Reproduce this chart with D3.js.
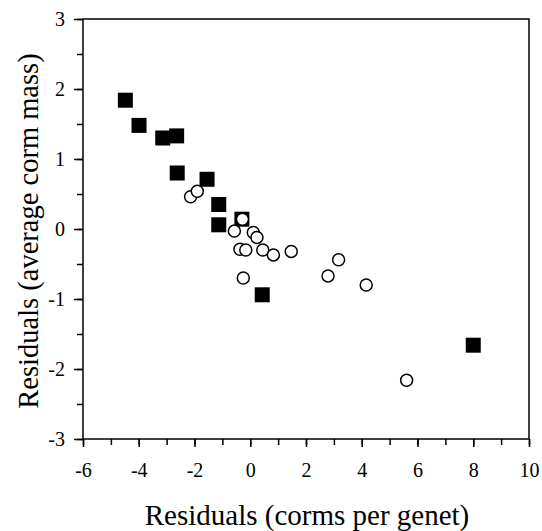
<!DOCTYPE html>
<html>
<head>
<meta charset="utf-8">
<script src="https://cdn.jsdelivr.net/npm/d3@7"></script>
<style>
  html, body { margin: 0; padding: 0; background: #fff; }
  svg { display: block; }
  svg text { font-family: "Liberation Serif", "DejaVu Serif", serif; fill: #000; }
</style>
</head>
<body>
<svg id="chart" width="542" height="531"></svg>
<script>
// Filled squares: residuals (corms per genet, average corm mass)
const squareX = [-4.48, -3.99, -3.14, -2.64, -2.62, -1.55, -1.13, -1.13, -0.30, 0.43, 8.0];
const squareY = [1.84, 1.48, 1.30, 1.33, 0.80, 0.71, 0.35, 0.06, 0.14, -0.94, -1.66];

// Open circles
const circleX = [-2.14, -1.90, -0.28, -0.57, 0.11, 0.24, -0.37, -0.16, 0.45, 0.83, 1.47, -0.25, 3.17, 2.79, 4.16, 5.61];
const circleY = [0.46, 0.54, 0.14, -0.03, -0.05, -0.12, -0.29, -0.30, -0.30, -0.37, -0.32, -0.70, -0.44, -0.67, -0.80, -2.16];

const xTicks = [-6, -4, -2, 0, 2, 4, 6, 8, 10];
const yTicks = [-3, -2, -1, 0, 1, 2, 3];
const xMinorTicks = d3.range(-6, 10.01, 1);
const yMinorTicks = d3.range(-3, 3.01, 0.5);

const xTitle = "Residuals (corms per genet)";
const yTitle = "Residuals (average corm mass)";

const plot = { left: 83, right: 529, top: 19, bottom: 439 };
const serif = "'Liberation Serif', 'DejaVu Serif', serif";

const svg = d3.select("#chart");
const x = d3.scaleLinear().domain([-6, 10]).range([plot.left, plot.right]);
const y = d3.scaleLinear().domain([-3, 3]).range([plot.bottom, plot.top]);

// Plain hyphen for negative numbers
const fmt = d => String(d);

// Frame
svg.append("rect")
  .attr("x", plot.left).attr("y", plot.top)
  .attr("width", plot.right - plot.left).attr("height", plot.bottom - plot.top)
  .attr("fill", "none").attr("stroke", "#000").attr("stroke-width", 1.5);

function styleAxis(g) {
  g.select(".domain").remove();
  g.selectAll("line").attr("stroke", "#000").attr("stroke-width", 1.5);
  g.selectAll("text")
    .style("font-family", serif)
    .style("font-size", "20px")
    .attr("fill", "#000");
}

// X axis: minor then major ticks
const xAxisG = svg.append("g").attr("transform", `translate(0,${plot.bottom})`);
xAxisG.append("g").call(d3.axisBottom(x).tickValues(xMinorTicks).tickSize(6).tickFormat(""))
  .call(styleAxis);
xAxisG.append("g").call(d3.axisBottom(x).tickValues(xTicks).tickSize(8).tickPadding(16).tickFormat(fmt))
  .call(styleAxis);

// Y axis
const yAxisG = svg.append("g").attr("transform", `translate(${plot.left},0)`);
yAxisG.append("g").call(d3.axisLeft(y).tickValues(yMinorTicks).tickSize(6).tickFormat(""))
  .call(styleAxis);
yAxisG.append("g").call(d3.axisLeft(y).tickValues(yTicks).tickSize(9).tickPadding(9).tickFormat(fmt))
  .call(styleAxis);

// Squares
const sq = 15;
svg.append("g").selectAll("rect")
  .data(d3.zip(squareX, squareY))
  .join("rect")
  .attr("x", d => x(d[0]) - sq / 2)
  .attr("y", d => y(d[1]) - sq / 2)
  .attr("width", sq).attr("height", sq)
  .attr("fill", "#000");

// Circles
svg.append("g").selectAll("circle")
  .data(d3.zip(circleX, circleY))
  .join("circle")
  .attr("cx", d => x(d[0]))
  .attr("cy", d => y(d[1]))
  .attr("r", 6)
  .attr("fill", "#fff")
  .attr("stroke", "#000")
  .attr("stroke-width", 1.5);

// Axis titles
svg.append("text")
  .attr("x", 307)
  .attr("y", 525)
  .attr("text-anchor", "middle")
  .style("font-family", serif)
  .style("font-size", "29px")
  .text(xTitle);

svg.append("text")
  .attr("transform", `translate(38,231) rotate(-90)`)
  .attr("text-anchor", "middle")
  .style("font-family", serif)
  .style("font-size", "28.5px")
  .text(yTitle);
</script>
</body>
</html>
